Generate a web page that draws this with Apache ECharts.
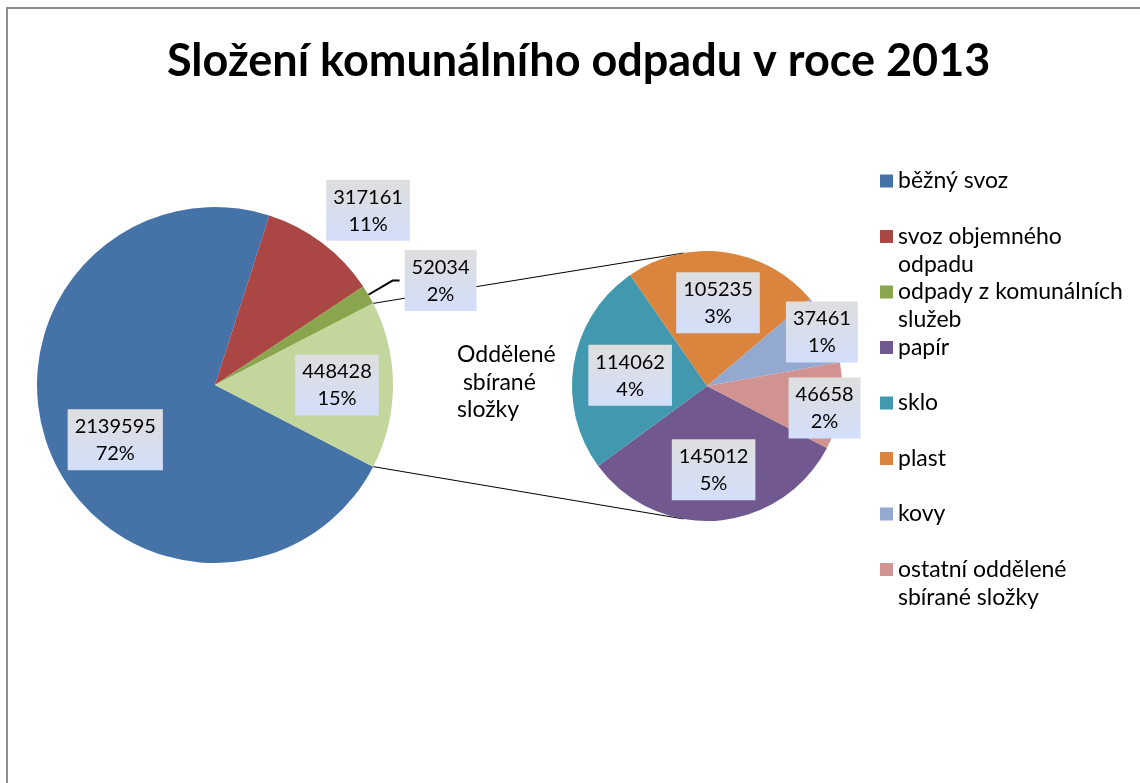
<!DOCTYPE html>
<html>
<head>
<meta charset="utf-8">
<title>Složení komunálního odpadu v roce 2013</title>
<script src="https://cdn.jsdelivr.net/npm/echarts@6/dist/echarts.min.js"></script>
<style>
    html, body { margin: 0; padding: 0; background: #fff; }
    #chart { width: 1140px; height: 783px; }
</style>
</head>
<body>
<div id="chart"></div>
<script>
// hlavní koláč
var mainNames = ['běžný svoz', 'svoz objemného odpadu', 'odpady z komunálních služeb', 'Oddělené sbírané složky'];
var mainValues = [2139595, 317161, 52034, 448428];
var mainPct = ['72%', '11%', '2%', '15%'];
// druhý koláč (rozpad oddělených složek)
var subNames = ['papír', 'sklo', 'plast', 'kovy', 'ostatní oddělené sbírané složky'];
var subValues = [145012, 114062, 105235, 37461, 46658];
var subPct = ['5%', '4%', '3%', '1%', '2%'];
// texty legendy (zalomené jako v originále)
var legendText = {
    'běžný svoz': ['běžný svoz', ''],
    'svoz objemného odpadu': ['svoz objemného', 'odpadu'],
    'odpady z komunálních služeb': ['odpady z komunálních', 'služeb'],
    'papír': ['papír', ''],
    'sklo': ['sklo', ''],
    'plast': ['plast', ''],
    'kovy': ['kovy', ''],
    'ostatní oddělené sbírané složky': ['ostatní oddělené', 'sbírané složky']
};

var mainColors = ['#4572a7', '#aa4643', '#89a54e', '#c3d69b'];
var subColors = ['#71588f', '#4198af', '#db843d', '#93a9cf', '#d19392'];

var FONT = 'Lato, "Open Sans", sans-serif';
var mainC = [215, 385], mainR = 178;
var subC = [707, 386], subR = 135;

var total = mainValues.reduce(function (a, b) { return a + b; }, 0);
var splitFrac = mainValues[3] / total;
// excel centruje rozpadanou výseč doprava
var startAngle = -splitFrac * 180;

var labelBox = {
    color: '#000',
    fontFamily: FONT,
    fontSize: 20,
    lineHeight: 27,
    padding: [4, 7, 3, 7],
    backgroundColor: {
        type: 'linear', x: 0, y: 0, x2: 0, y2: 1,
        colorStops: [{offset: 0, color: '#dedede'}, {offset: 1, color: '#d3defa'}]
    },
    rich: {
        c: {align: 'center', color: '#000', fontFamily: FONT, fontSize: 20, lineHeight: 27}
    }
};

function fmt(pct) {
    return function (p) {
        return '{c|' + p.value + '}\n{c|' + pct[p.dataIndex] + '}';
    };
}

function pieData(names, values, colors) {
    return names.map(function (n, i) {
        return {name: n, value: values[i], itemStyle: {color: colors[i]}};
    });
}

// průhledný prstenec jen pro popisky - popisek leží uprostřed prstence
function labelRing(center, radius, names, values, pct, show, nudge) {
    return {
        type: 'pie',
        center: center,
        radius: radius,
        startAngle: startAngle,
        silent: true,
        avoidLabelOverlap: false,
        emphasis: {disabled: true},
        itemStyle: {color: 'rgba(0,0,0,0)'},
        labelLine: {show: false},
        z: 5,
        labelLayout: function (p) {
            var n = nudge && nudge[p.dataIndex];
            return n ? {dx: n[0], dy: n[1]} : {};
        },
        data: names.map(function (n, i) {
            return {
                name: n, value: values[i],
                label: Object.assign({
                    show: show.indexOf(i) >= 0,
                    position: 'inside',
                    formatter: fmt(pct)
                }, labelBox)
            };
        })
    };
}

// spojovací čáry mezi koláči
function pt(c, r, deg) {
    var a = deg * Math.PI / 180;
    return [c[0] + r * Math.sin(a), c[1] - r * Math.cos(a)];
}
var upperA = pt(mainC, mainR, 90 - splitFrac * 180);
var lowerA = pt(mainC, mainR, 90 + splitFrac * 180);
var upperB = pt(subC, subR, -10);
var lowerB = pt(subC, subR, 190);

var chart = echarts.init(document.getElementById('chart'));
var mainData = pieData(mainNames, mainValues, mainColors);
mainData[2].label = Object.assign({
    show: true,
    position: 'outside',
    formatter: fmt(mainPct)
}, labelBox);
mainData[2].labelLine = {show: true, length: 28, length2: 7, lineStyle: {color: '#000', width: 2}};

var option = {
    animation: false,
    title: {
        text: 'Složení komunálního odpadu v roce 2013',
        left: 162,
        top: 34,
        textStyle: {fontFamily: FONT, fontSize: 45, fontWeight: 'bold', color: '#000'}
    },
    legend: {
        orient: 'vertical',
        left: 880,
        top: 139,
        padding: 0,
        itemWidth: 13,
        itemHeight: 13,
        itemGap: -28.5,
        icon: 'rect',
        selectedMode: false,
        data: mainNames.slice(0, 3).concat(subNames),
        // prázdný první řádek -> ikona stojí u prvního řádku textu
        formatter: function (name) { return '\n' + legendText[name].join('\n'); },
        textStyle: {
            fontFamily: FONT, fontSize: 23, color: '#000',
            lineHeight: 28,
            backgroundColor: 'rgba(255,255,255,0)'
        },
        itemStyle: {borderWidth: 0}
    },
    graphic: [
        {type: 'rect', shape: {x: 7, y: 8, width: 1200, height: 800},
            style: {fill: 'none', stroke: '#8e8e8e', lineWidth: 2}, silent: true},
        {type: 'line', shape: {x1: upperA[0], y1: upperA[1], x2: upperB[0], y2: upperB[1]},
            style: {stroke: '#000', lineWidth: 1}, z: 0},
        {type: 'line', shape: {x1: lowerA[0], y1: lowerA[1], x2: lowerB[0], y2: lowerB[1]},
            style: {stroke: '#000', lineWidth: 1}, z: 0},
        {type: 'text', left: 457, top: 341,
            style: {text: 'Oddělené\n sbírané\nsložky', fontFamily: FONT, fontSize: 23, lineHeight: 27.5, fill: '#000'}}
    ],
    series: [
        {
            type: 'pie',
            name: 'hlavní',
            center: mainC,
            radius: mainR,
            startAngle: startAngle,
            silent: true,
            avoidLabelOverlap: false,
            emphasis: {disabled: true},
            label: {show: false},
            labelLine: {show: false},
            z: 3,
            data: mainData
        },
        {
            type: 'pie',
            name: 'oddělené',
            center: subC,
            radius: subR,
            startAngle: startAngle,
            silent: true,
            emphasis: {disabled: true},
            label: {show: false},
            labelLine: {show: false},
            z: 3,
            data: pieData(subNames, subValues, subColors)
        },
        labelRing(mainC, [60, mainR], mainNames, mainValues, mainPct, [0, 3], {0: [13, 8]}),
        labelRing(mainC, [196, 276], mainNames, mainValues, mainPct, [1], {1: [9, 16]}),
        labelRing(subC, [27, subR], subNames, subValues, subPct, [0, 1, 2], {1: [6, 3]}),
        labelRing(subC, [108, 140], subNames, subValues, subPct, [3, 4], {4: [-8, 3]})
    ]
};
chart.setOption(option);
</script>
</body>
</html>
